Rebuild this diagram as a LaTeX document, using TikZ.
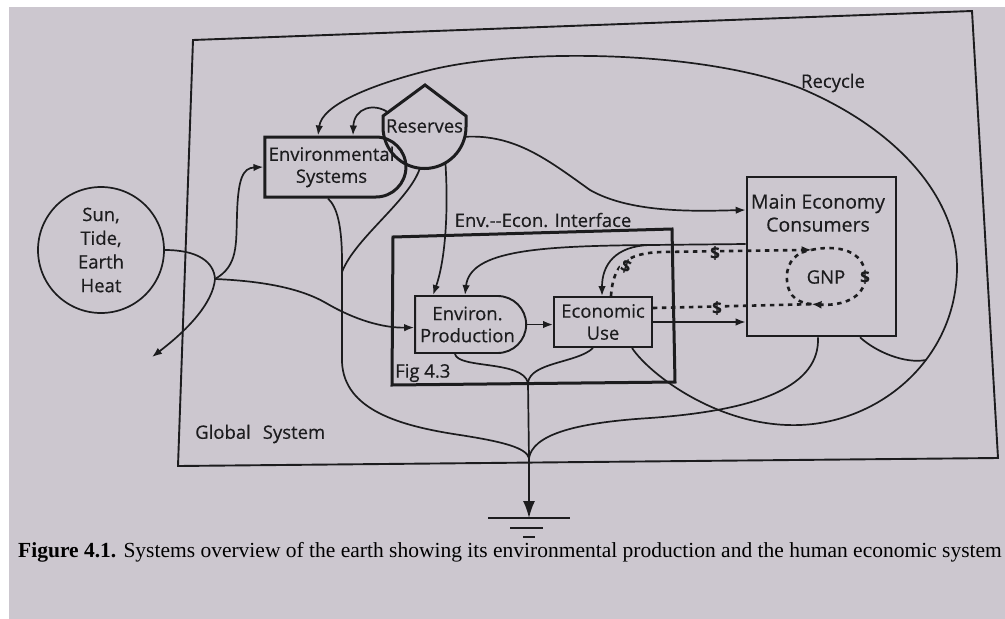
\documentclass[tikz,border=0pt]{standalone}
\usepackage{fontspec}
\setmainfont{Liberation Serif}
\newfontfamily\diagfont[FakeBold=0.45]{Open Sans}
\usetikzlibrary{arrows.meta,shapes.misc,shapes.geometric}
\definecolor{paper}{RGB}{204,199,207}
\definecolor{ink}{RGB}{28,28,30}
\begin{document}
\begin{tikzpicture}[x=1pt,y=-1pt,
  every node/.style={font=\diagfont\fontsize{18.5}{22}\selectfont, text=ink, inner sep=0pt},
  flow/.style={draw=ink, line width=1.7pt, -{Latex[length=10pt,width=7.5pt]}},
  plain/.style={draw=ink, line width=1.7pt},
  money/.style={draw=ink, line width=2.6pt, dash pattern=on 4.5pt off 4.5pt},
  producer/.style={rounded rectangle, rounded rectangle left arc=none, draw=ink, align=center},
  box/.style={rectangle, draw=ink, fill=paper, align=center},
  dollar/.style={font=\diagfont\bfseries\fontsize{17}{17}\selectfont, fill=paper, inner sep=0.5pt},
]
\useasboundingbox (0,0) rectangle (1005,619);
\fill[white] (0,0) rectangle (1005,619);
\fill[paper] (9,7) rectangle (1005,619);

% global system frame and the interface frame
\draw[ink, line width=1.9pt] (193,40) -- (972,11) -- (998,458) -- (178,466) -- cycle;
\draw[ink, line width=3pt] (393,237) -- (672,229) -- (675,382) -- (392,385) -- cycle;

% sources, storages and producers
\node[circle, draw=ink, line width=1.7pt, minimum size=126pt, align=center,
      font=\diagfont\fontsize{18.5}{23.7}\selectfont] (sun) at (101,250) {Sun,\\Tide,\\Earth\\Heat};
\node[producer, line width=3pt, minimum width=141pt, minimum height=60pt] (envsys) at (331.5,167) {Environmental\\Systems};
\draw[ink, line width=3pt] (383,116) -- (425,85) -- (466,116) -- (466,127)
  .. controls (466,150) and (447.4,168.5) .. (424.5,168.5)
  .. controls (401.6,168.5) and (383,150) .. (383,127) -- cycle;
\node[circle, minimum size=83pt] (res) at (424.5,126) {Reserves};
\coordinate (resnw) at (389,113);

\node[producer, line width=1.9pt, minimum width=111pt, minimum height=57pt] (envprod) at (467.5,324.5) {Environ.\\Production};
\node[box, line width=1.9pt, minimum width=98pt, minimum height=50pt] (ecouse) at (603,322) {Economic\\Use};
\node[box, line width=2.6pt, minimum width=149pt, minimum height=159pt] (mainecon) at (821.5,256.5) {};
\node[align=center, font=\diagfont\fontsize{19.5}{23}\selectfont] (mainlbl) at (818,213) {Main Economy\\Consumers};
\node[ellipse, minimum width=78pt, minimum height=58pt] (gnp) at (826,277) {GNP};

% labels
\node (ifacelbl) at (543,220) {Env.{-}{-}Econ. Interface};
\node[anchor=west] (figlbl) at (395,373) {Fig 4.3};
\node[anchor=west] (globlbl) at (195,434) {Global\hspace{12pt}System};
\node (recyclbl) at (833,83) {Recycle};

% junctions and free ends
\coordinate (junc) at (215,279);
\coordinate (heatout) at (152,357);
\coordinate (sinkjoin) at (529,458);
\coordinate (figjoin) at (528,383);
\coordinate (recjoin) at (926,360);
\coordinate (fbsplit) at (650,245);
\coordinate (ground) at (529,518);

% source energy
\draw[plain] (sun.east) .. controls (198,250) and (214,262) .. (junc);
\draw[flow] (junc) .. controls (213,302) and (190,328) .. (heatout);
\draw[flow] (junc) .. controls (238,266) and (236,245) .. (237,215)
  .. controls (238,178) and (243,168) .. (envsys.west);
\draw[flow] (junc) .. controls (262,281) and (300,288) .. (326,303)
  .. controls (355,320) and (383,328) .. ([yshift=-3pt]envprod.west);

% environmental systems and reserves
\draw[plain] (328,0 |- envsys.south) .. controls (337,207) and (342,225) .. (342,262)
  -- (342,362) .. controls (344,410) and (400,426) .. (460,435)
  .. controls (505,442) and (526,448) .. (sinkjoin);
\draw[plain] (res.-96) .. controls (410,200) and (355,238) .. (342,272);
\draw[flow] (res.-60) .. controls (448,200) and (447,255) .. (433,0 |- envprod.north);
\draw[flow] (res.-15) .. controls (515,134) and (548,160) .. (590,190)
  .. controls (632,214) and (700,211) .. (mainecon.west |- 0,210);
\draw[flow] (resnw) .. controls (374,102) and (354,108) .. (353,0 |- envsys.north);

% recycle loop
\draw[flow] (632,0 |- ecouse.south) .. controls (650,375) and (720,428) .. (800,425)
  .. controls (880,422) and (955,360) .. (957,270)
  .. controls (958,200) and (900,130) .. (800,88)
  .. controls (700,50) and (520,48) .. (430,70)
  .. controls (370,85) and (322,105) .. (318,0 |- envsys.north);
\draw[plain] (860,0 |- mainecon.south) .. controls (876,352) and (905,364) .. (recjoin);

% degraded energy to the heat sink
\draw[plain] (818,0 |- mainecon.south) .. controls (820,385) and (762,410) .. (650,418)
  .. controls (570,423) and (533,436) .. (sinkjoin);
\draw[plain] (455,0 |- envprod.south) .. controls (458,369) and (523,360) .. (figjoin);
\draw[plain] (593,0 |- ecouse.south) .. controls (578,363) and (530,362) .. (figjoin);
\draw[plain] (figjoin) -- (sinkjoin);
\draw[ink, line width=1.7pt, -{Latex[length=17pt,width=12pt]}] (sinkjoin) -- (ground);
\draw[ink, line width=2.2pt] ([xshift=-41pt]ground) -- ([xshift=41pt]ground);
\draw[ink, line width=2.2pt] ([xshift=-19pt,yshift=-10pt]ground) -- ([xshift=14pt,yshift=-10pt]ground);
\draw[ink, line width=2.2pt] ([xshift=-6pt,yshift=-19pt]ground) -- ([xshift=6pt,yshift=-19pt]ground);

% interface flows
\draw[flow] (envprod.east) -- (ecouse.west |- envprod.east);
\draw[flow] (ecouse.east) -- (mainecon.west |- ecouse.east);
\draw[flow] (mainecon.west |- 0,244) -- (fbsplit)
  .. controls (540,246) and (470,250) .. (465,0 |- envprod.north);
\draw[flow] (fbsplit) .. controls (615,246) and (602,265) .. (602,0 |- ecouse.north);

% money circulation
\draw[money, -{Latex[length=10pt,width=8pt]}] (611,0 |- ecouse.north)
  .. controls (613,265) and (626,253) .. (662,252) -- (gnp.118);
\draw[money, -{Latex[length=10pt,width=8pt]}] (gnp.118) .. controls (846,243) and (866,256) .. (gnp.east)
  .. controls (865,298) and (842,306) .. (gnp.-118);
\draw[money] (gnp.-118) .. controls (792,302) and (787,291) .. (gnp.west)
  .. controls (787,262) and (796,252) .. (gnp.118);
\draw[money] (ecouse.east |- 0,308) -- (gnp.-118);
\node[dollar, rotate=-20] (d1) at (626,266) {\$};
\node[dollar] (d2) at (715,253) {\$};
\node[dollar] (d3) at (717,308) {\$};
\node[dollar] (d4) at (865,277) {\$};

% caption
\node[anchor=west, font=\rmfamily\fontsize{21.5}{24}\selectfont, text=black] (caption) at (18,552)
  {\textbf{Figure 4.1.} Systems overview of the earth showing its environmental production and the human economic system};
\end{tikzpicture}
\end{document}
